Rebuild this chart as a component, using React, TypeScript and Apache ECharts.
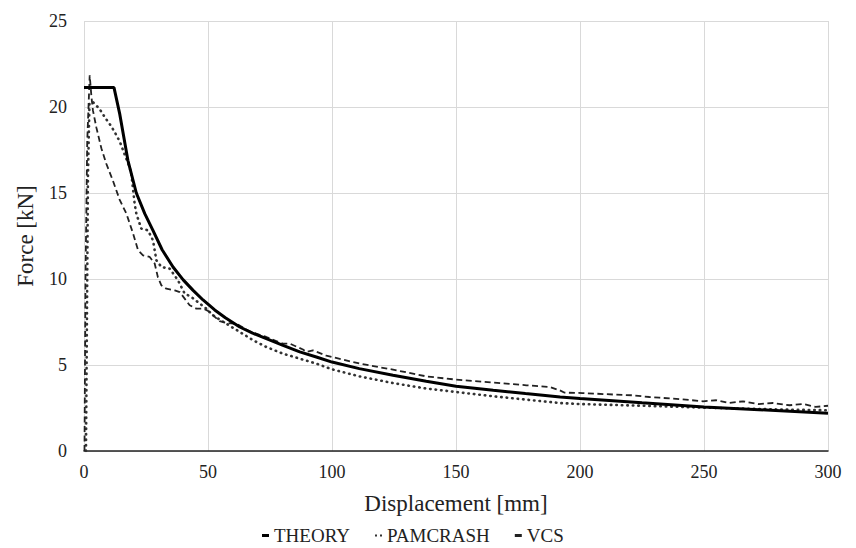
import React, { useEffect, useRef } from "react";
import * as echarts from "echarts";

const xTicks = [0, 50, 100, 150, 200, 250, 300];
const yTicks = [0, 5, 10, 15, 20, 25];
const seriesNames = ["THEORY", "PAMCRASH", "VCS"];

const theory: [number, number][] = [
  [0, 21.13], [12.1, 21.13], [14.4, 19.6], [17.7, 16.9], [21.1, 15.0], [24.5, 13.8],
  [27.8, 12.83], [31.5, 11.7], [35.9, 10.7], [40, 9.95], [44, 9.34], [48, 8.78],
  [52.7, 8.2], [57, 7.75], [62.8, 7.21], [68, 6.85], [73.5, 6.53], [80, 6.15],
  [87, 5.76], [94, 5.45], [100, 5.17], [111, 4.79], [124.6, 4.4], [138, 4.05],
  [150, 3.76], [165, 3.53], [178, 3.34], [192, 3.14], [200, 3.05], [225, 2.8],
  [250, 2.56], [275, 2.38], [300, 2.2],
];

const pamcrash: [number, number][] = [
  [0.8, 0], [1.2, 8], [1.6, 16], [2.2, 20.2], [3.5, 20.3], [6.2, 19.9], [8.9, 19.3],
  [10.9, 18.9], [12.9, 18.4], [14.4, 18.0], [16.5, 17.2], [18.4, 16.5], [19.1, 16.1],
  [20.4, 14.4], [21.1, 13.8], [23.1, 12.93], [25.8, 12.83], [27.8, 12.25], [29.2, 11.09],
  [31.2, 10.7], [34.6, 10.6], [37.9, 9.92], [40.6, 9.15], [43.3, 8.95], [46.7, 8.57],
  [49.3, 8.28], [52, 7.89], [57.4, 7.4], [62.8, 6.92], [68.2, 6.44], [73.5, 6.05],
  [80.2, 5.66], [87, 5.37], [93.7, 5.08], [100, 4.75], [111, 4.34], [124.6, 3.95],
  [138, 3.63], [150, 3.43], [165, 3.18], [178, 2.99], [191.8, 2.79], [200, 2.73],
  [228, 2.62], [250, 2.52], [281, 2.41], [300, 2.37],
];

const vcs: [number, number][] = [
  [0.2, 0], [0.6, 10], [1.3, 18], [2.3, 21.84], [3, 20.6], [3.6, 19.8], [5, 18.8],
  [7, 17.6], [9, 16.7], [11.7, 15.7], [14.4, 14.6], [17.1, 13.8], [19.8, 12.64],
  [21.8, 11.67], [23.8, 11.38], [26.5, 11.28], [28.5, 10.9], [29.8, 10.1], [31.2, 9.63],
  [33.2, 9.44], [36.6, 9.34], [38.6, 9.24], [40.6, 8.86], [42.6, 8.47], [45.3, 8.28],
  [48, 8.28], [50, 8.15], [54.7, 7.55], [57.4, 7.45], [61.5, 7.4], [66.8, 6.95],
  [73.5, 6.63], [80.2, 6.24], [83, 6.24], [88.3, 5.9], [89.7, 5.76], [92.3, 5.85],
  [97.7, 5.55], [102, 5.4], [111.2, 5.08], [124.6, 4.73], [138, 4.34], [150, 4.15],
  [165, 3.98], [178.4, 3.82], [187.8, 3.72], [191.8, 3.53], [193.8, 3.39], [201, 3.37],
  [214, 3.28], [221, 3.24], [228, 3.14], [232, 3.1], [241.5, 3.0], [249.6, 2.89],
  [255, 2.95], [260, 2.79], [265.7, 2.89], [272, 2.73], [277.8, 2.79], [284.5, 2.66],
  [290, 2.73], [295, 2.56], [300, 2.63],
];

const FONT = "Liberation Serif";

export default function App() {
  const ref = useRef<HTMLDivElement>(null);
  useEffect(() => {
    if (!ref.current) return;
    const chart = echarts.init(ref.current, undefined, { renderer: "svg" });
    chart.setOption({
      animation: false,
      backgroundColor: "#ffffff",
      textStyle: { fontFamily: FONT },
      grid: { left: 84, right: 28, top: 21, bottom: 97 },
      legend: {
        data: [
          { name: seriesNames[0], icon: "rect", itemStyle: { color: "#000" } },
          { name: seriesNames[1], icon: "path://M0,0h2v2h-2z M5,0h2v2h-2z", itemStyle: { color: "#333" } },
          { name: seriesNames[2], icon: "rect", itemStyle: { color: "#222" } },
        ],
        left: 257,
        top: 521,
        itemWidth: 7,
        itemHeight: 3,
        itemGap: 25,
        textStyle: { fontFamily: FONT, fontSize: 19, color: "#222" },
      },
      xAxis: {
        type: "value",
        min: xTicks[0],
        max: xTicks[xTicks.length - 1],
        interval: 50,
        name: "Displacement [mm]",
        nameLocation: "middle",
        nameGap: 41,
        nameTextStyle: { fontFamily: FONT, fontSize: 23, color: "#222" },
        axisLine: { show: true, lineStyle: { color: "#222", width: 1.5 } },
        axisTick: { show: false },
        axisLabel: { fontFamily: FONT, fontSize: 18, color: "#222", margin: 12 },
        splitLine: { show: true, lineStyle: { color: "#d9d9d9", width: 1 } },
      },
      yAxis: {
        type: "value",
        min: yTicks[0],
        max: yTicks[yTicks.length - 1],
        interval: 5,
        name: "Force [kN]",
        nameLocation: "middle",
        nameGap: 47,
        nameTextStyle: { fontFamily: FONT, fontSize: 23, color: "#222" },
        axisLine: { show: false },
        axisTick: { show: false },
        axisLabel: { fontFamily: FONT, fontSize: 18, color: "#222", margin: 17 },
        splitLine: { show: true, lineStyle: { color: "#d9d9d9", width: 1 } },
      },
      series: [
        {
          name: seriesNames[0],
          type: "line",
          data: theory,
          showSymbol: false,
          symbol: "none",
          color: "#000",
          lineStyle: { color: "#000", width: 3 },
          z: 3,
        },
        {
          name: seriesNames[1],
          type: "line",
          data: pamcrash,
          showSymbol: false,
          symbol: "none",
          color: "#333",
          lineStyle: { color: "#333", width: 2.6, type: [0.5, 5], cap: "round" },
          z: 2,
        },
        {
          name: seriesNames[2],
          type: "line",
          data: vcs,
          showSymbol: false,
          symbol: "none",
          color: "#222",
          lineStyle: { color: "#222", width: 1.8, type: [6, 3.5] },
          z: 2,
        },
      ],
    });
    return () => chart.dispose();
  }, []);
  return (
    <div
      ref={ref}
      style={{ position: "fixed", left: 0, top: 0, width: 856, height: 548, background: "#fff" }}
    />
  );
}
